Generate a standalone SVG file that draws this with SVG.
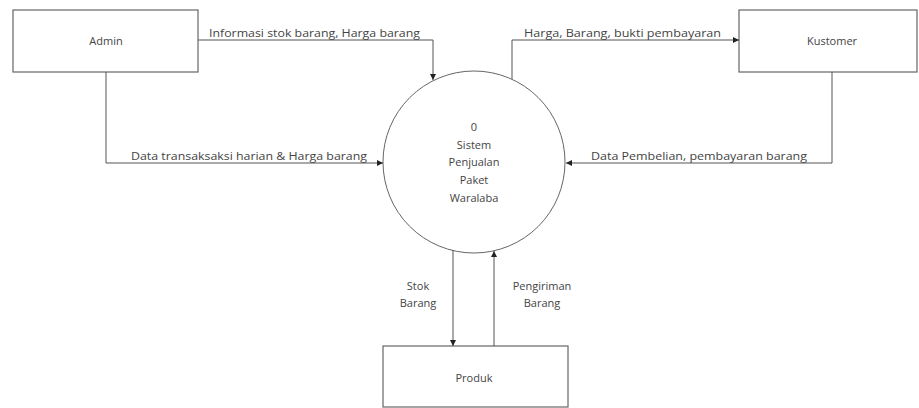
<svg xmlns="http://www.w3.org/2000/svg" width="919" height="408" viewBox="0 0 919 408">
<style>
.box{fill:#fff;stroke:#666;stroke-width:1.2}
.proc{fill:#fff;stroke:#666;stroke-width:1}
.c{fill:none;stroke:#555;stroke-width:1}
text{font-family:"Open Sans","Liberation Sans",sans-serif;font-size:11px;fill:#444}
.m{text-anchor:middle}
</style>
<defs>
<marker id="ah" viewBox="0 0 10 10" refX="10" refY="5" markerWidth="6" markerHeight="6" orient="auto" markerUnits="userSpaceOnUse">
<path d="M0,0 L10,5 L0,10 z" fill="#222"/>
</marker>
</defs>
<rect width="919" height="408" fill="#fff"/>
<g id="admin"><rect class="box" x="13" y="10" width="185" height="62"/><text class="m" x="106" y="45">Admin</text></g>
<g id="kustomer"><rect class="box" x="739" y="10" width="178" height="62"/><text class="m" x="832" y="45">Kustomer</text></g>
<g id="produk"><rect class="box" x="383" y="346" width="185" height="61"/><text class="m" x="474" y="382">Produk</text></g>
<g id="sistem"><circle class="proc" cx="474" cy="162" r="91"/>
<text class="m" x="474" y="131">0</text>
<text class="m" x="474" y="149">Sistem</text>
<text class="m" x="474" y="166">Penjualan</text>
<text class="m" x="474" y="184">Paket</text>
<text class="m" x="474" y="202">Waralaba</text></g>
<g id="connectors">
<path class="c" d="M198,40 H433 V80" marker-end="url(#ah)"/>
<path class="c" d="M106,72 V163 H383" marker-end="url(#ah)"/>
<path class="c" d="M512,79 V40 H739" marker-end="url(#ah)"/>
<path class="c" d="M832,72 V163 H566" marker-end="url(#ah)"/>
<path class="c" d="M453,250 V346" marker-end="url(#ah)"/>
<path class="c" d="M494,346 V251" marker-end="url(#ah)"/>
<text x="209" y="37" textLength="211" lengthAdjust="spacingAndGlyphs">Informasi stok barang, Harga barang</text>
<text x="131" y="160" textLength="236" lengthAdjust="spacingAndGlyphs">Data transaksaksi harian &amp; Harga barang</text>
<text x="524" y="37" textLength="197" lengthAdjust="spacingAndGlyphs">Harga, Barang, bukti pembayaran</text>
<text x="591" y="160" textLength="216" lengthAdjust="spacingAndGlyphs">Data Pembelian, pembayaran barang</text>
<text class="m" x="418" y="290">Stok</text>
<text class="m" x="418" y="307">Barang</text>
<text class="m" x="542" y="290">Pengiriman</text>
<text class="m" x="542" y="307">Barang</text>
</g>
</svg>
